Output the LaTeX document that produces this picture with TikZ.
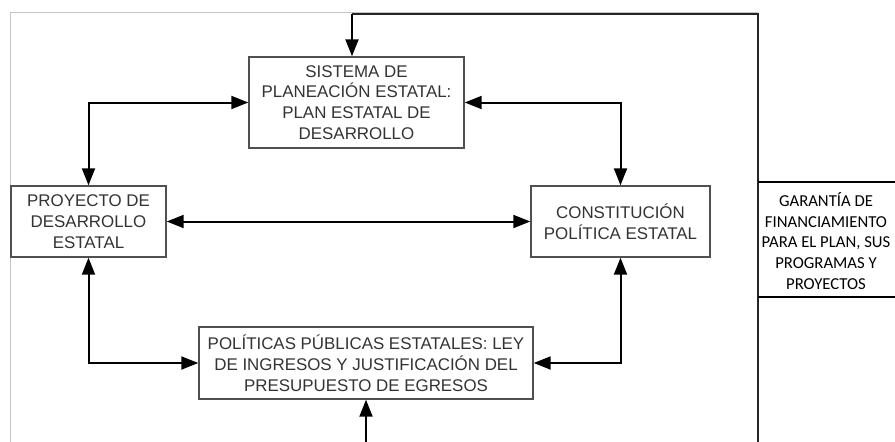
\documentclass[tikz,border=0pt]{standalone}
\usepackage{fontspec}
\setmainfont{Liberation Sans}
\newfontfamily\calib{Carlito}
\usetikzlibrary{arrows.meta}
\definecolor{boxline}{HTML}{505050}
\definecolor{boxtext}{HTML}{333333}
\definecolor{framegray}{HTML}{C4C4C4}
\tikzset{
  box/.style={draw=boxline, line width=1.4pt, rectangle, inner sep=0pt, align=center,
    text=boxtext, font=\fontsize{16.9}{20.8}\selectfont},
  conn/.style={line width=2pt, draw=black, -{Triangle[length=17pt,width=13pt]}},
  biconn/.style={line width=2pt, draw=black, {Triangle[length=17pt,width=13pt]}-{Triangle[length=17pt,width=13pt]}},
  frameline/.style={line width=2pt, draw=black!85},
  cellline/.style={line width=1.5pt, draw=black},
  gar/.style={inner sep=0pt, align=center, text=black, font=\calib\fontsize{16.7}{20.7}\selectfont}
}
\begin{document}
\begin{tikzpicture}[x=1pt,y=-1pt]
\useasboundingbox (0,0) rectangle (895,442);
% light gray outer frame
\draw[framegray, line width=1pt] (10,442) -- (10,12) -- (758,12);
% boxes
\node[box, minimum width=215pt, minimum height=91pt] (S) at (356.5,102.5)
  {SISTEMA DE\\PLANEACIÓN ESTATAL:\\PLAN ESTATAL DE\\DESARROLLO};
\node[box, minimum width=155pt, minimum height=71pt] (P) at (88.5,221.5)
  {PROYECTO DE\\DESARROLLO\\ESTATAL};
\node[box, minimum width=179pt, minimum height=71pt] (C) at (620.5,221.5)
  {CONSTITUCIÓN\\POLÍTICA ESTATAL};
\node[box, minimum width=334pt, minimum height=72pt] (L) at (366,363)
  {POLÍTICAS PÚBLICAS ESTATALES: LEY\\DE INGRESOS Y JUSTIFICACIÓN DEL\\PRESUPUESTO DE EGRESOS};
% right frame and cell
\coordinate (fb) at (758,442);
\coordinate (ft) at (758,14);
\coordinate (fl) at (352,14);
\coordinate (ga) at (758,182);
\coordinate (gb) at (895,182);
\coordinate (gc) at (758,297);
\coordinate (gd) at (895,297);
\coordinate (bot) at (366,442);
\draw[frameline] (fb) -- (ft) -- (fl);
\draw[conn] (fl) -- (S.north -| fl);
\draw[cellline] (ga) -- (gb);
\draw[cellline] (gc) -- (gd);
\node[gar] (G) at (826,241) {GARANTÍA DE\\FINANCIAMIENTO\\PARA EL PLAN, SUS\\PROGRAMAS Y\\PROYECTOS};
% connectors
\draw[biconn] (P.north) |- (S.west);
\draw[biconn] (S.east) -| (C.north);
\draw[biconn] (P.east) -- (C.west);
\draw[biconn] (P.south) |- (L.west);
\draw[biconn] (C.south) |- (L.east);
\draw[conn] (bot) -- (L.south);
\end{tikzpicture}
\end{document}
